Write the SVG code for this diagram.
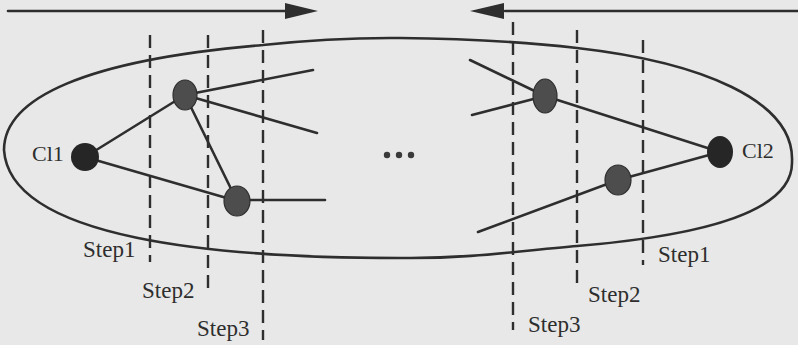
<svg xmlns="http://www.w3.org/2000/svg" width="798" height="345" viewBox="0 0 798 345">
<defs>
<style>
.ln{stroke:#2e2e2e;stroke-width:2.6;fill:none;stroke-linecap:round}
.dash{stroke:#2e2e2e;stroke-width:2.4;fill:none;stroke-dasharray:13 7}
.lbl{font-family:"Liberation Serif","Times New Roman",serif;font-size:23px;fill:#2e2e2e}
.cl{font-size:22px}
.dark{fill:#262626}
.mid{fill:#4d4d4d;stroke:#2e2e2e;stroke-width:1.2}
.dot{fill:#3a3a3a}
</style>
</defs>
<rect width="798" height="345" fill="#e8e8e8"/>
<g id="timeline">
<line class="ln" x1="8" y1="11" x2="290" y2="11"/>
<polygon points="285,3 318,11 285,19" fill="#2e2e2e"/>
<line class="ln" x1="505" y1="11" x2="798" y2="11"/>
<polygon points="504,3 470,11 504,19" fill="#2e2e2e"/>
</g>
<g id="loop">
<path class="ln" d="M4,150 C4,98 85,60 263,45 C304.7,40.5 347.7,37.5 400,38 C452.3,38.5 522,41.7 577,48 C700,62 795,100 792,162 C793,210 710,235 577,246 C526,250 471.2,259 400,258 C220,258 10,240 4,150 Z"/>
</g>
<g id="steps">
<line class="dash" x1="150" y1="35" x2="150" y2="262"/>
<line class="dash" x1="208" y1="35" x2="208" y2="290"/>
<line class="dash" x1="263" y1="30" x2="263" y2="340"/>
<line class="dash" x1="513" y1="22" x2="513" y2="330"/>
<line class="dash" x1="577" y1="30" x2="577" y2="285"/>
<line class="dash" x1="643" y1="40" x2="643" y2="265"/>
<text class="lbl" x="83" y="257">Step1</text>
<text class="lbl" x="142" y="298">Step2</text>
<text class="lbl" x="197" y="336">Step3</text>
<text class="lbl" x="658" y="262">Step1</text>
<text class="lbl" x="588" y="302">Step2</text>
<text class="lbl" x="528" y="332">Step3</text>
</g>
<g id="connectors">
<line class="ln" x1="85" y1="157" x2="185" y2="95"/>
<line class="ln" x1="85" y1="157" x2="237" y2="201"/>
<line class="ln" x1="185" y1="95" x2="313" y2="70"/>
<line class="ln" x1="185" y1="95" x2="317" y2="133"/>
<line class="ln" x1="185" y1="95" x2="237" y2="201"/>
<line class="ln" x1="237" y1="200" x2="325" y2="200"/>
<line class="ln" x1="470" y1="60" x2="545" y2="96"/>
<line class="ln" x1="472" y1="115" x2="545" y2="96"/>
<line class="ln" x1="545" y1="96" x2="720" y2="152"/>
<line class="ln" x1="618" y1="180" x2="720" y2="152"/>
<line class="ln" x1="618" y1="180" x2="478" y2="232"/>
</g>
<g id="Cl1">
<circle class="dark" cx="85" cy="157" r="14"/>
<text class="lbl cl" x="32" y="161">Cl1</text>
</g>
<g id="nodeA"><ellipse class="mid" cx="185" cy="95" rx="12" ry="15"/></g>
<g id="nodeB"><ellipse class="mid" cx="237" cy="201" rx="13" ry="15"/></g>
<g id="nodeC"><ellipse class="mid" cx="545" cy="96" rx="12" ry="17"/></g>
<g id="nodeD"><ellipse class="mid" cx="618" cy="180" rx="13" ry="15"/></g>
<g id="Cl2">
<ellipse class="dark" cx="720" cy="152" rx="13" ry="16"/>
<text class="lbl cl" x="742" y="158">Cl2</text>
</g>
<g id="dots">
<circle class="dot" cx="387" cy="155" r="3.2"/>
<circle class="dot" cx="399" cy="155" r="3.2"/>
<circle class="dot" cx="411" cy="155" r="3.2"/>
</g>
</svg>
